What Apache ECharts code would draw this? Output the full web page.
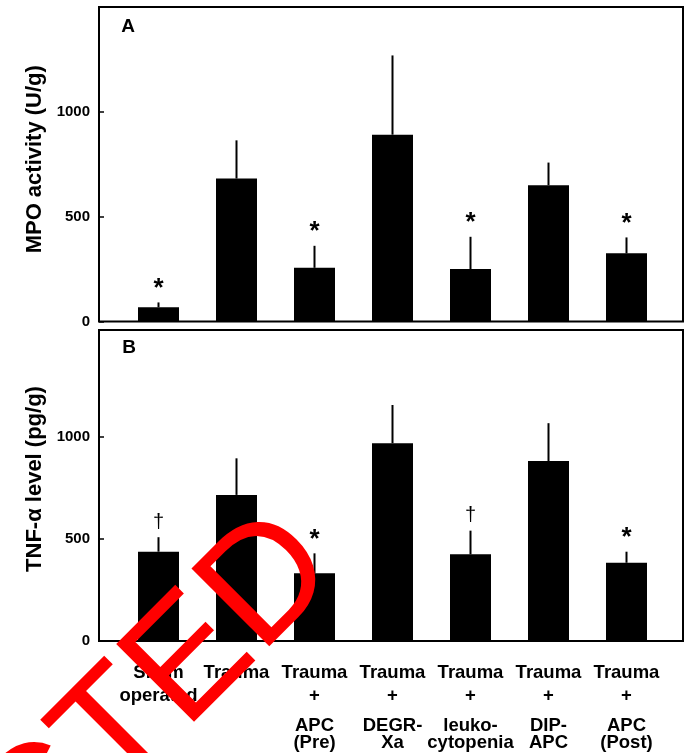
<!DOCTYPE html>
<html>
<head>
<meta charset="utf-8">
<script src="https://cdn.jsdelivr.net/npm/echarts@6/dist/echarts.min.js"></script>
<style>
  html, body { margin: 0; padding: 0; background: #fff; }
  #chart { width: 693px; height: 753px; }
</style>
</head>
<body>
<div id="chart"></div>
<script>
// ---- data ----
var categories = ['Sham\noperated', 'Trauma', 'Trauma\n+\nAPC\n(Pre)', 'Trauma\n+\nDEGR-\nXa',
                  'Trauma\n+\nleuko-\ncytopenia', 'Trauma\n+\nDIP-\nAPC', 'Trauma\n+\nAPC\n(Post)'];
var mpoMean = [68, 682, 256, 891, 250, 650, 325];
var mpoErr  = [23, 182, 105, 378, 154, 108, 76];
var mpoMarks = ['*', '', '*', '', '*', '', '*'];
var tnfMean = [437, 715, 331, 968, 424, 881, 383];
var tnfErr  = [71, 179, 98, 187, 116, 185, 54];
var tnfMarks = ['\u2020', '', '*', '', '\u2020', '', '*'];
var yTicks = [0, 500, 1000];
var mpoTitle = 'MPO activity (U/g)';
var tnfTitle = 'TNF-\u03b1 level (pg/g)';
var panelLetters = ['A', 'B'];
var stampText = 'RETRACTED';

var FONT = "'Liberation Sans', Arial, Helvetica, sans-serif";

var chart = echarts.init(document.getElementById('chart'), null, { renderer: 'canvas' });

function errRenderer(marks) {
  return function (params, api) {
    var i = api.value(0), m = api.value(1), e = api.value(2);
    var p0 = api.coord([i, m]);
    var p1 = api.coord([i, m + e]);
    var children = [{
      type: 'line',
      shape: { x1: p0[0], y1: p0[1], x2: p1[0], y2: p1[1] },
      style: { stroke: '#000', lineWidth: 2 }
    }];
    var mk = marks[params.dataIndex];
    if (mk) {
      var isStar = mk === '*';
      children.push({
        type: 'text',
        x: p1[0], y: p1[1] - (isStar ? 1 : 5),
        style: {
          text: mk,
          font: (isStar ? 'bold 26px ' : '20px ') + FONT,
          fill: '#000', align: 'center', verticalAlign: 'bottom'
        }
      });
    }
    return { type: 'group', children: children };
  };
}

function frameY(gridIndex, max, name, pad) {
  return {
    gridIndex: gridIndex, type: 'value', min: 0, max: max,
    axisLine: { show: false },
    splitLine: { show: false },
    axisTick: { show: true, inside: true, length: 5, lineStyle: { color: '#000', width: 1.5 }, customValues: yTicks },
    axisLabel: { show: true, margin: 9, color: '#000', fontFamily: FONT, fontWeight: 'bold', fontSize: 15,
                 customValues: yTicks, formatter: function (v) { return String(v); } },
    name: name, nameLocation: 'middle', nameGap: 48, nameRotate: 90,
    nameTextStyle: { fontFamily: FONT, fontWeight: 'bold', fontSize: 22, color: '#000', padding: pad }
  };
}
function hiddenY(gridIndex, max) {
  return { gridIndex: gridIndex, type: 'value', min: 0, max: max, show: false };
}

function catLabel(value) {
  var lines = value.split('\n');
  var out = ['{l1|' + lines[0] + '}'];
  if (lines.length > 1) out.push('{l2|' + lines[1] + '}');
  if (lines.length > 2) {
    out.push('{gap| }');
    for (var k = 2; k < lines.length; k++) out.push('{l3|' + lines[k] + '}');
  }
  return out.join('\n');
}
var labelStyle = { fontFamily: FONT, fontWeight: 'bold', fontSize: 18.5, color: '#000' };

var option = {
  backgroundColor: '#fff',
  animation: false,
  grid: [
    { left: 99, top: 7, width: 584, height: 314.5, show: true, borderColor: '#000', borderWidth: 2, backgroundColor: 'transparent' },
    { left: 119.5, top: 7, width: 546, height: 314.5 },
    { left: 99, top: 330, width: 584, height: 311, show: true, borderColor: '#000', borderWidth: 2, backgroundColor: 'transparent' },
    { left: 119.5, top: 330, width: 546, height: 311 }
  ],
  xAxis: [
    { gridIndex: 0, type: 'value', min: 0, max: 1, show: false },
    { gridIndex: 1, type: 'category', data: categories, axisLine: { show: false }, axisTick: { show: false }, axisLabel: { show: false } },
    { gridIndex: 2, type: 'value', min: 0, max: 1, show: false },
    { gridIndex: 3, type: 'category', data: categories, axisLine: { show: false }, axisTick: { show: false },
      axisLabel: {
        show: true, interval: 0, margin: 20, formatter: catLabel, align: 'center',
        rich: {
          l1: Object.assign({ lineHeight: 23 }, labelStyle),
          l2: Object.assign({ lineHeight: 23 }, labelStyle),
          gap: { lineHeight: 11, fontSize: 8 },
          l3: Object.assign({ lineHeight: 16.5 }, labelStyle)
        }
      } }
  ],
  yAxis: [
    frameY(0, 1500, mpoTitle, [0, 0, 0, 10]),
    hiddenY(1, 1500),
    frameY(2, 1522, tnfTitle, [0, 0, 0, 13]),
    hiddenY(3, 1522)
  ],
  series: [
    { type: 'bar', xAxisIndex: 1, yAxisIndex: 1, data: mpoMean, barWidth: 41, itemStyle: { color: '#000' }, z: 2 },
    { type: 'custom', xAxisIndex: 1, yAxisIndex: 1, renderItem: errRenderer(mpoMarks),
      data: mpoMean.map(function (v, i) { return [i, v, mpoErr[i]]; }), encode: { x: 0, y: 1 }, z: 3 },
    { type: 'bar', xAxisIndex: 3, yAxisIndex: 3, data: tnfMean, barWidth: 41, itemStyle: { color: '#000' }, z: 2 },
    { type: 'custom', xAxisIndex: 3, yAxisIndex: 3, renderItem: errRenderer(tnfMarks),
      data: tnfMean.map(function (v, i) { return [i, v, tnfErr[i]]; }), encode: { x: 0, y: 1 }, z: 3 }
  ],
  graphic: [
    { type: 'text', x: 128, y: 27, style: { text: panelLetters[0], font: 'bold 19px ' + FONT, fill: '#000', align: 'center', verticalAlign: 'middle' } },
    { type: 'text', x: 129, y: 348, style: { text: panelLetters[1], font: 'bold 19px ' + FONT, fill: '#000', align: 'center', verticalAlign: 'middle' } },
    { type: 'text', z: 100, x: 310.6, y: 542.6, rotation: Math.PI / 4,
      style: { text: stampText, font: '160px ' + FONT, fill: '#ff0000', align: 'right', verticalAlign: 'middle' } }
  ]
};
chart.setOption(option);
</script>
</body>
</html>
